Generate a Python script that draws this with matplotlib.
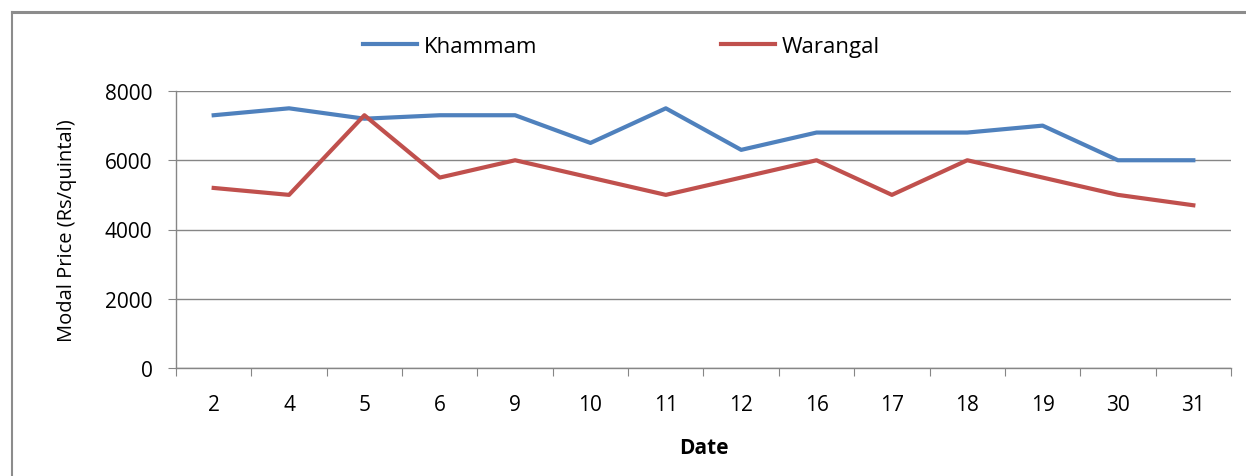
import matplotlib
matplotlib.use("Agg")
import matplotlib.pyplot as plt
from matplotlib.lines import Line2D

dates = ["2", "4", "5", "6", "9", "10", "11", "12", "16", "17", "18", "19", "30", "31"]
khammam = [7300, 7500, 7200, 7300, 7300, 6500, 7500, 6300, 6800, 6800, 6800, 7000, 6000, 6000]
warangal = [5200, 5000, 7300, 5500, 6000, 5500, 5000, 5500, 6000, 5000, 6000, 5500, 5000, 4700]
yticks = [0, 2000, 4000, 6000, 8000]

plt.rcParams['font.family'] = ['Open Sans', 'DejaVu Sans']

W, H = 1246, 477
fig = plt.figure(figsize=(W / 100, H / 100), dpi=100)

# outer frame (document chart border)
fig.add_artist(Line2D([12 / W, 12 / W], [0, 1 - 13 / H], transform=fig.transFigure,
                      color='#8c8c8c', lw=1.5))
fig.add_artist(Line2D([12 / W, 1], [1 - 13 / H, 1 - 13 / H], transform=fig.transFigure,
                      color='#8c8c8c', lw=2.2))

ax = fig.add_axes([176 / W, 108 / H, 1055 / W, 277 / H])
x = list(range(len(dates)))
ax.plot(x, khammam, color='#4F81BD', lw=3, label='Khammam')
ax.plot(x, warangal, color='#C0504D', lw=3, label='Warangal')

ax.set_xlim(-0.5, len(dates) - 0.5)
ax.set_ylim(0, 8000)
ax.set_yticks(yticks)
ax.set_yticklabels([str(v) for v in yticks], fontsize=15)
ax.yaxis.grid(True, color='#868686', lw=1)
ax.set_axisbelow(True)

ax.set_xticks([i - 0.5 for i in range(len(dates) + 1)])
ax.set_xticklabels([])
ax.set_xticks(x, minor=True)
ax.set_xticklabels(dates, minor=True, fontsize=15)
ax.tick_params(axis='x', which='major', length=6, color='#868686', direction='out')
ax.tick_params(axis='x', which='minor', length=0, pad=18.5)
ax.tick_params(axis='y', length=6, color='#868686', pad=11)

for s in ['top', 'right']:
    ax.spines[s].set_visible(False)
for s in ['left', 'bottom']:
    ax.spines[s].set_color('#868686')
    ax.spines[s].set_linewidth(1)

ax.set_ylabel('Modal Price (Rs/quintal)', fontsize=14.5, labelpad=20)
ax.set_xlabel('Date', fontsize=15, fontweight='bold', labelpad=16)

ax.legend(ncol=2, loc='center', bbox_to_anchor=(0.4223, 1.162),
          frameon=False, fontsize=16, handlelength=2.43, columnspacing=8.3,
          handletextpad=0.27)

fig.savefig('out.png', dpi=100)
